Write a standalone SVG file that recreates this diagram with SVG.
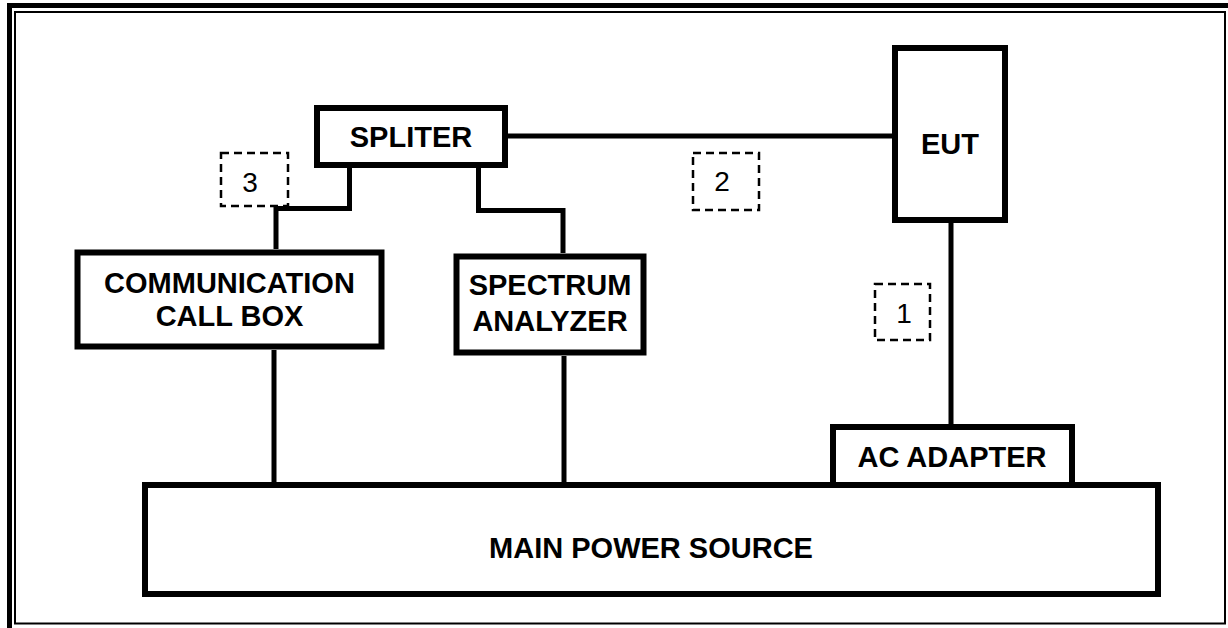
<svg xmlns="http://www.w3.org/2000/svg" width="1228" height="628" viewBox="0 0 1228 628">
<style>
.box{fill:#fff;stroke:#000;stroke-width:6}
.lbl{font-family:"Liberation Sans",Arial,sans-serif;font-weight:bold;font-size:29px;text-anchor:middle;fill:#000}
.num{font-family:"Liberation Sans",Arial,sans-serif;font-size:28px;text-anchor:middle;fill:#000}
.dash{fill:none;stroke:#000;stroke-width:2.5;stroke-dasharray:8 5}
.wire{fill:none;stroke:#000;stroke-width:5}
</style>
<rect x="0" y="0" width="1228" height="628" fill="#fff"/>
<g id="frame">
<rect x="9.5" y="5.5" width="1225" height="625" fill="none" stroke="#000" stroke-width="5"/>
<rect x="15" y="12" width="1210" height="611.5" fill="none" stroke="#000" stroke-width="2"/>
</g>
<g id="connectors">
<path class="wire" d="M508 136 H892"/>
<path class="wire" d="M349.5 168 V208.5 H276 V249"/>
<path class="wire" d="M478.5 168 V210.5 H563 V253"/>
<path class="wire" d="M274 350 V482"/>
<path class="wire" d="M564 356 V482"/>
<path class="wire" d="M951 223 V424"/>
</g>
<g id="main-power">
<rect class="box" x="145" y="485" width="1013" height="109"/>
<text class="lbl" x="651" y="558">MAIN POWER SOURCE</text>
</g>
<g id="ac-adapter">
<rect class="box" x="833" y="427" width="239" height="58"/>
<text class="lbl" x="952" y="467">AC ADAPTER</text>
</g>
<g id="spliter">
<rect class="box" x="317" y="108" width="188" height="57"/>
<text class="lbl" x="411" y="147">SPLITER</text>
</g>
<g id="eut">
<rect class="box" x="895" y="48" width="110" height="172"/>
<text class="lbl" x="950" y="154">EUT</text>
</g>
<g id="call-box">
<rect class="box" x="77.5" y="252.5" width="304" height="94"/>
<text class="lbl" x="229.5" y="293">COMMUNICATION</text>
<text class="lbl" x="229.5" y="326">CALL BOX</text>
</g>
<g id="spectrum">
<rect class="box" x="456.5" y="256.5" width="187" height="96"/>
<text class="lbl" x="550" y="295">SPECTRUM</text>
<text class="lbl" x="550" y="331">ANALYZER</text>
</g>
<g id="label-3">
<rect class="dash" x="221" y="153" width="67" height="53"/>
<text class="num" x="250" y="191.5">3</text>
</g>
<g id="label-2">
<rect class="dash" x="693" y="153" width="66" height="57"/>
<text class="num" x="722" y="191">2</text>
</g>
<g id="label-1">
<rect class="dash" x="875" y="284" width="55" height="56"/>
<text class="num" x="904" y="323">1</text>
</g>
</svg>
